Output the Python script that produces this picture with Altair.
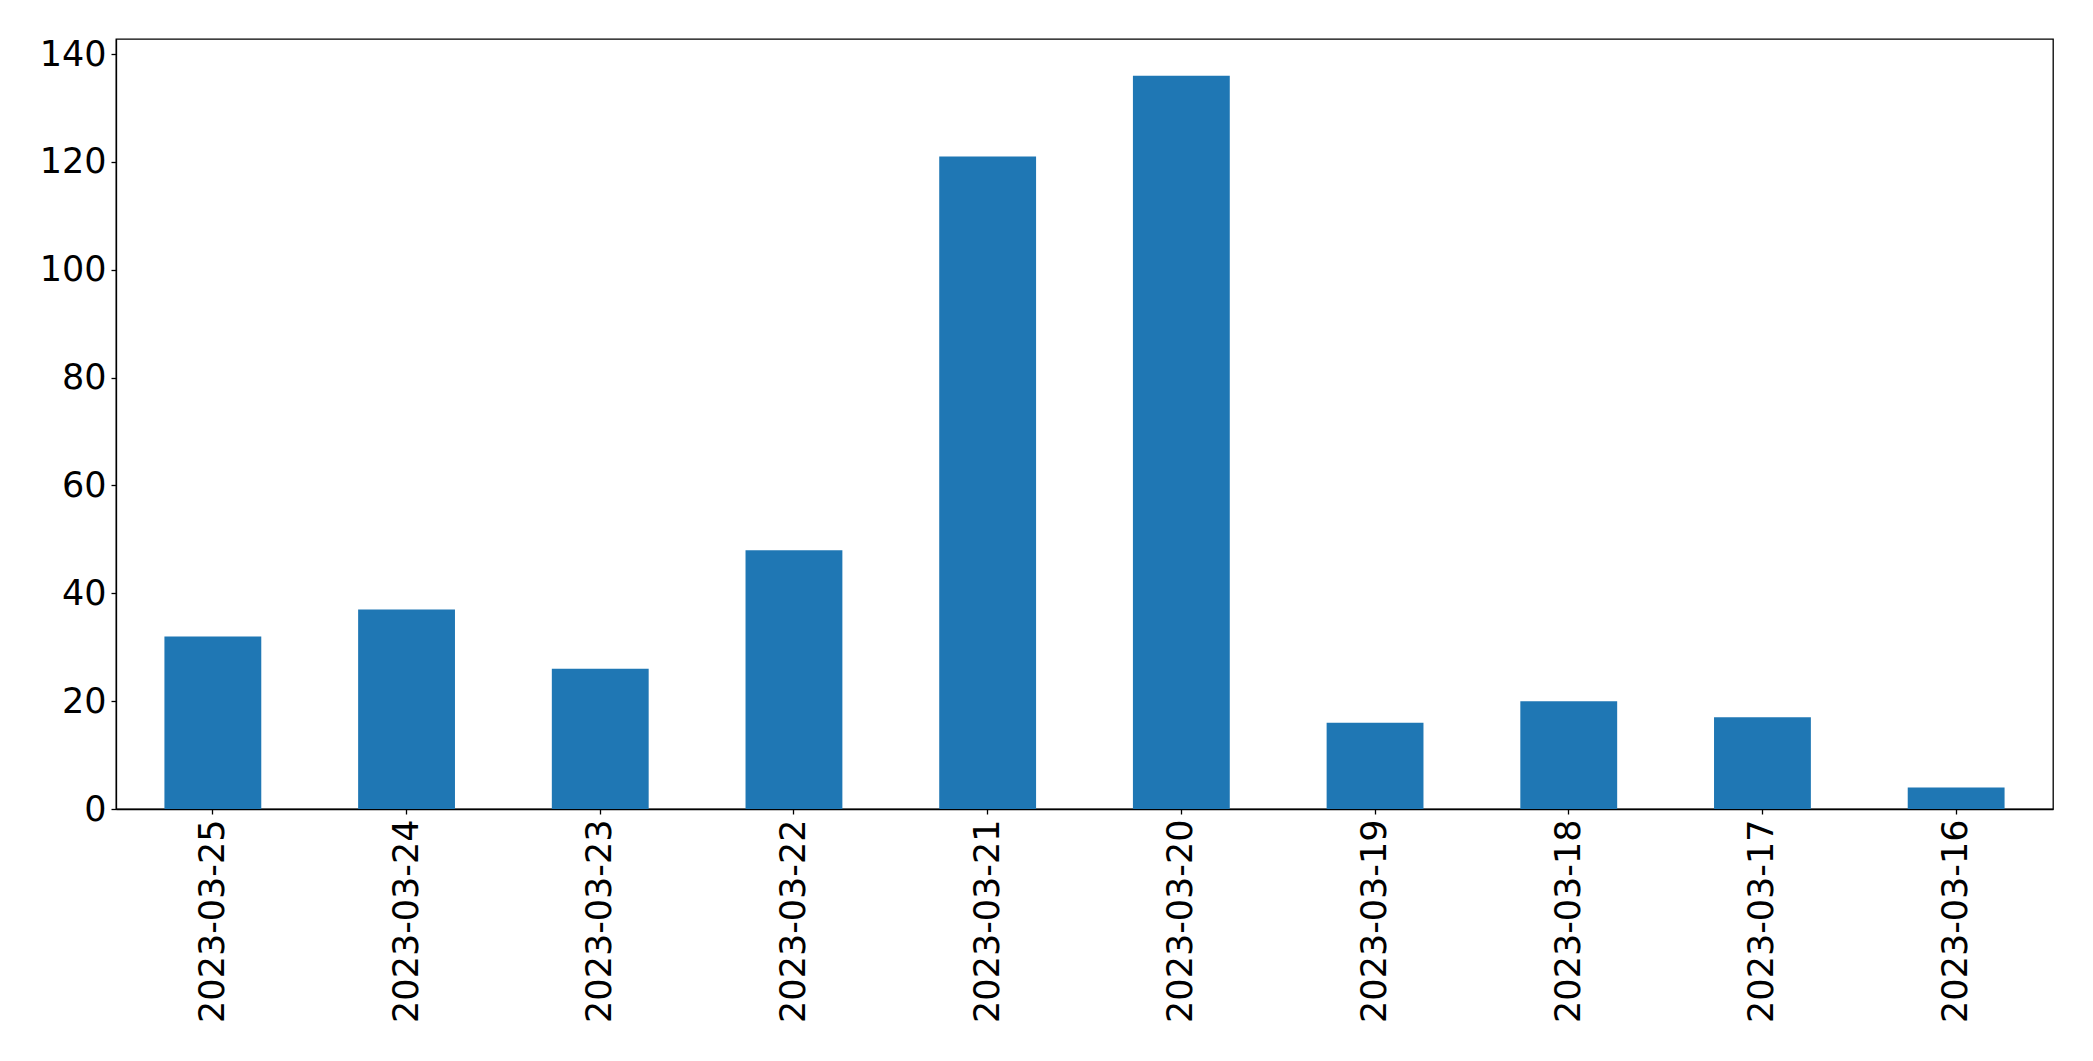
import altair as alt
import pandas as pd

dates = ["2023-03-25", "2023-03-24", "2023-03-23", "2023-03-22", "2023-03-21",
         "2023-03-20", "2023-03-19", "2023-03-18", "2023-03-17", "2023-03-16"]
counts = [32, 37, 26, 48, 121, 136, 16, 20, 17, 4]
y_ticks = [0, 20, 40, 60, 80, 100, 120, 140]

df = pd.DataFrame({"date": dates, "count": counts})

chart = alt.Chart(df).mark_bar(color="#1f77b4").encode(
    x=alt.X("date:N", sort=dates, title=None,
            scale=alt.Scale(paddingInner=0.5, paddingOuter=0.25),
            axis=alt.Axis(labelAngle=270, labelFont="DejaVu Sans", labelFontSize=35,
                          labelColor="black", domainColor="black", tickColor="black",
                          domainWidth=1.3, tickWidth=1.3,
                          tickSize=5, labelPadding=5, labelBaseline="middle", labelAlign="right",
                          labelLimit=0, grid=False)),
    y=alt.Y("count:Q", title=None,
            scale=alt.Scale(domain=[0, 142.8], nice=False, zero=True),
            axis=alt.Axis(values=y_ticks, labelFont="DejaVu Sans", labelFontSize=35,
                          labelColor="black", domainColor="black", tickColor="black",
                          domainWidth=1.3, tickWidth=1.3,
                          tickSize=5, labelPadding=5, grid=False)),
).properties(
    width=1937,
    height=770,
    autosize=alt.AutoSizeParams(type="none"),
    padding={"left": 108, "top": 31, "right": 20, "bottom": 230},
    background="white",
).configure_view(
    stroke="black", strokeWidth=1.3
)

chart.save("out.html", embed_options={"renderer": "svg", "actions": False})
